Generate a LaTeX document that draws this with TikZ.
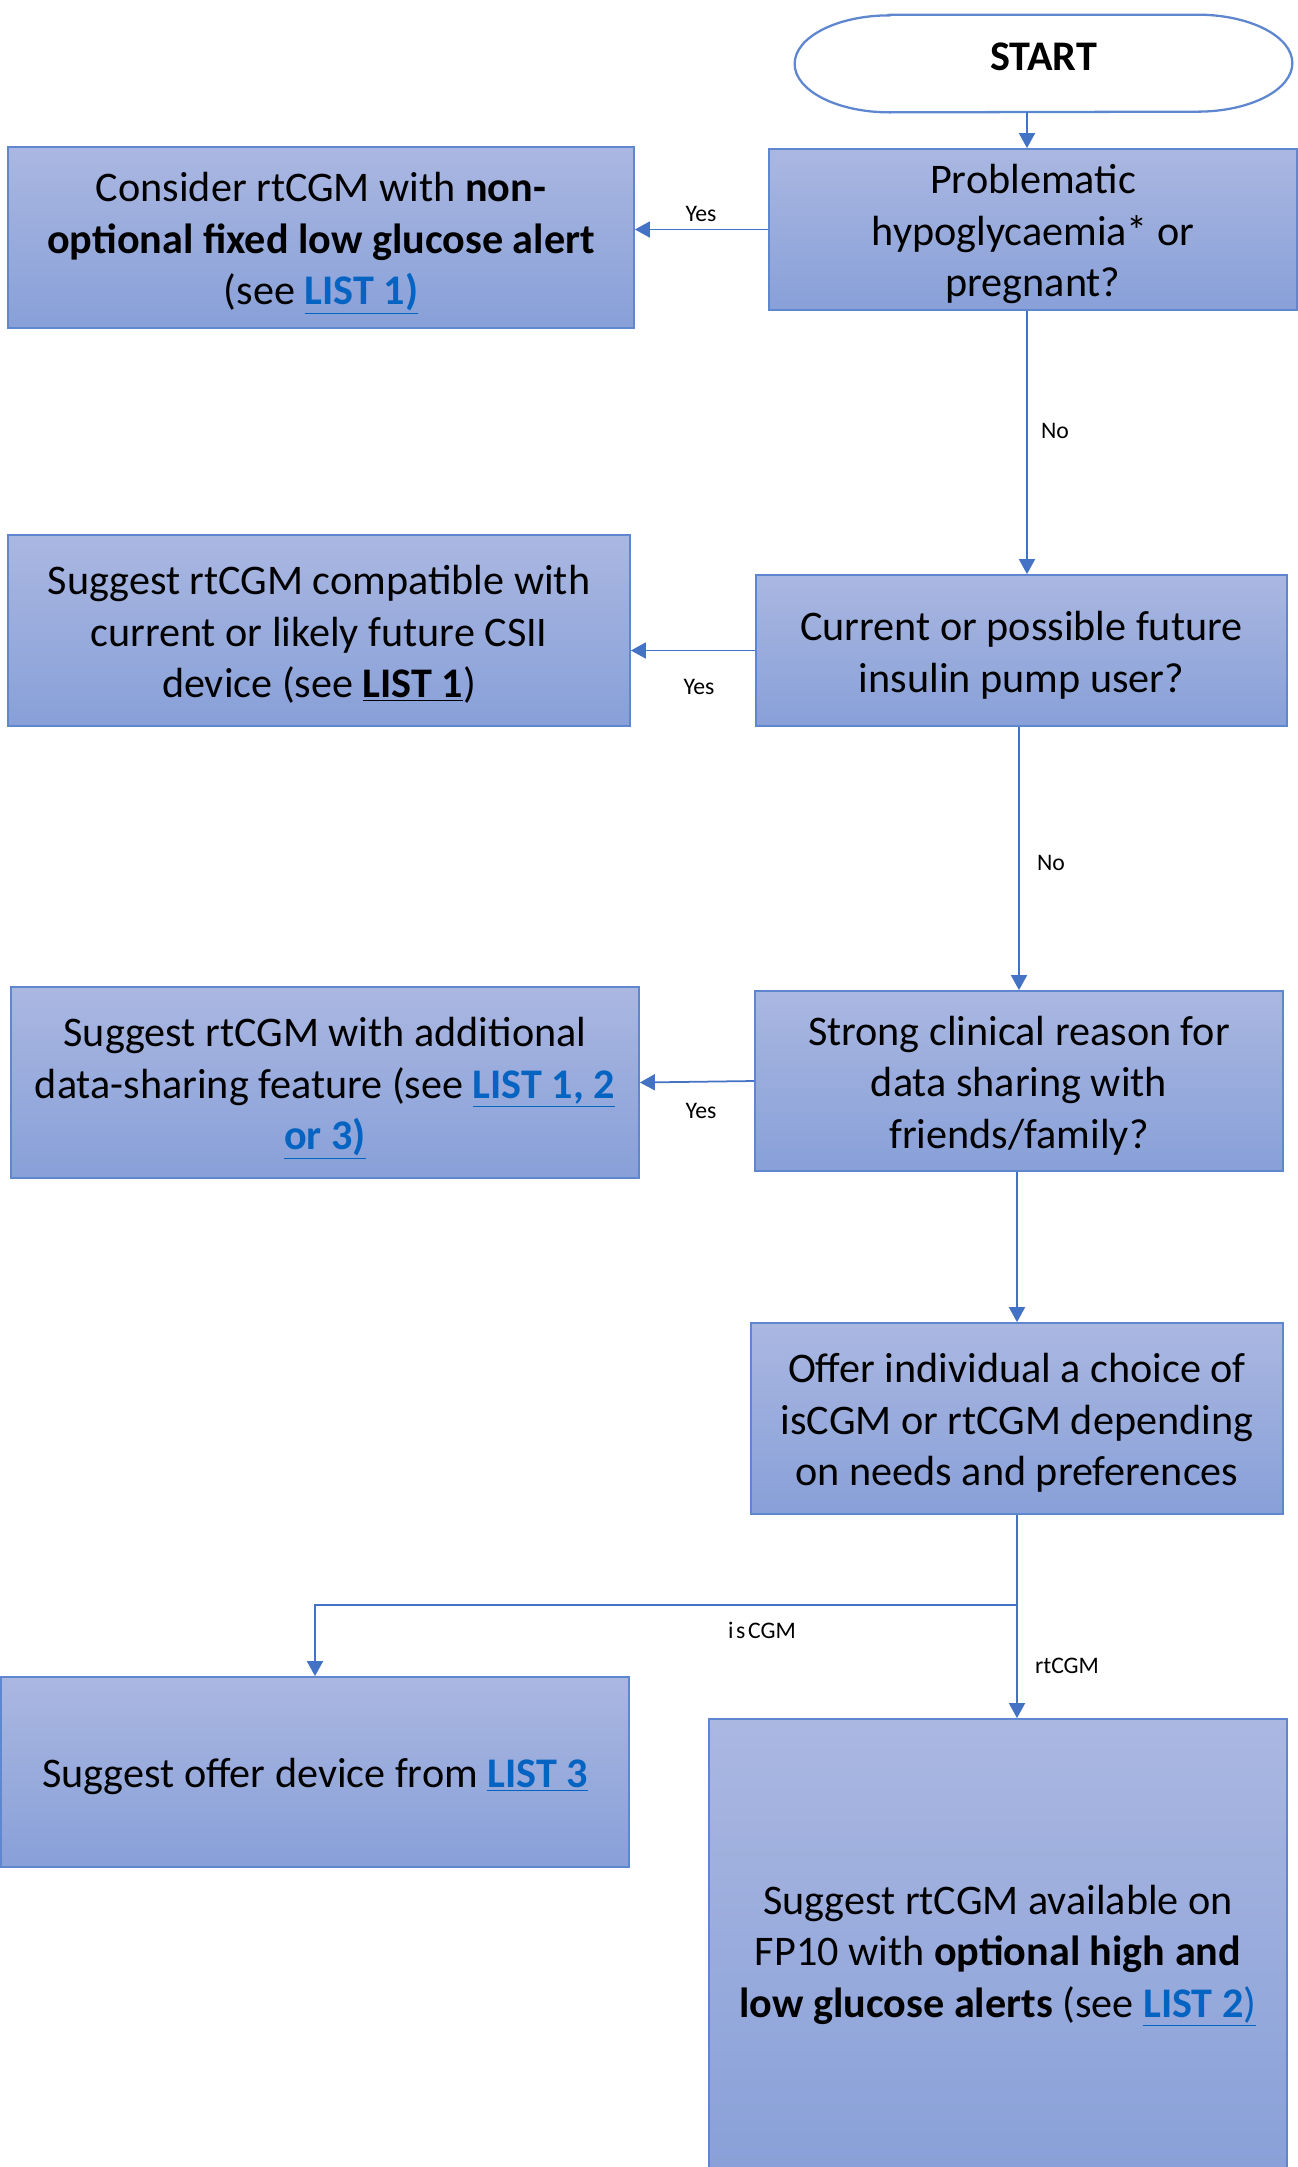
\documentclass[tikz,border=0pt]{standalone}
\usepackage{fontspec}
\setmainfont{Carlito}
\usepackage{xcolor}
\definecolor{fcline}{RGB}{68,114,196}
\definecolor{fcedge}{RGB}{95,135,208}
\definecolor{fctop}{RGB}{170,183,225}
\definecolor{fcbottom}{RGB}{136,160,216}
\definecolor{fclink}{RGB}{5,99,193}
\usetikzlibrary{arrows.meta, positioning}

\newcommand{\boxfont}{\fontsize{24}{29.3}\selectfont}
\newcommand{\lblfont}{\fontsize{13.5}{16}\selectfont}
\newcommand{\listlink}[1]{\textcolor{fclink}{\underline{\textbf{#1}}}}

\begin{document}
\begin{tikzpicture}[x=0.2mm, y=-0.2mm,
  procbox/.style={draw=fcedge, line width=1pt, top color=fctop, bottom color=fcbottom,
                  font=\boxfont, align=center, inner sep=0pt, text depth=6pt},
  oneline/.style={text height=24pt},
  twolines/.style={text height=53.3pt},
  threelines/.style={text height=82.6pt},
  flowarrow/.style={fcline, line width=1pt, -{Triangle[length=3mm, width=3.2mm]}},
  flowlbl/.style={font=\lblfont, inner sep=0pt}]

\clip (0,0) rectangle (1298,2167);

% === Start ===
\node[font=\boxfont\bfseries, minimum width=99.4mm, minimum height=19.4mm,
      text height=15.4pt, text depth=8pt] (start) at (1043.5,63.5) {START};
\draw[fcedge, line width=1.3pt] ([xshift=19mm]start.north west) -- ([xshift=-19mm]start.north east)
  arc[start angle=90, end angle=-90, x radius=19mm, y radius=9.7mm]
  -- ([xshift=19mm]start.south west)
  arc[start angle=270, end angle=90, x radius=19mm, y radius=9.7mm] -- cycle;

% === Questions (right column) ===
\node[procbox, threelines, minimum width=105.6mm, minimum height=32.2mm] (q1) at (1033,229.5)
     {Problematic\\hypoglycaemia* or\\pregnant?};
\node[procbox, twolines, minimum width=106.2mm, minimum height=30.2mm] (q2) at (1021.5,650.5)
     {Current or possible future\\insulin pump user?};
\node[procbox, threelines, minimum width=105.6mm, minimum height=36mm] (q3) at (1019,1081)
     {Strong clinical reason for\\data sharing with\\friends/family?};
\node[procbox, threelines, minimum width=106.4mm, minimum height=38.2mm] (q4) at (1017,1418.5)
     {Offer individual a choice of\\isCGM or rtCGM depending\\on needs and preferences};

% === Outcomes (left column) ===
\node[procbox, threelines, minimum width=125.2mm, minimum height=36.2mm] (a1) at (321,237.5)
     {Consider rtCGM with \textbf{non-}\\\textbf{optional fixed low glucose alert}\\(see \listlink{LIST 1)}};
\node[procbox, threelines, minimum width=124.4mm, minimum height=38.2mm] (a2) at (319,630.5)
     {Suggest rtCGM compatible with\\current or likely future CSII\\device (see \textbf{\underline{LIST 1}})};
\node[procbox, threelines, minimum width=125.6mm, minimum height=38.2mm] (a3) at (325,1082.5)
     {Suggest rtCGM with additional\\data-sharing feature (see \listlink{LIST 1, 2}\\\listlink{or 3)}};
\node[procbox, oneline, minimum width=125.6mm, minimum height=38mm] (a4) at (315,1772)
     {Suggest offer device from \listlink{LIST 3}};
\node[procbox, threelines, minimum width=115.6mm, minimum height=92.4mm] (a5) at (998,1950)
     {Suggest rtCGM available on\\FP10 with \textbf{optional high and}\\\textbf{low glucose alerts} (see \textcolor{fclink}{\underline{\textbf{LIST 2})}}};

% Arrows down the right column
\coordinate (topline) at (1027,0);
\draw[flowarrow] (start.south -| topline) -- (q1.north -| topline);
\draw[flowarrow] (q1.south -| topline) -- (q2.north -| topline);
\draw[flowarrow] (q2.south -| q3.north) -- (q3.north);
\draw[flowarrow] (q3.south -| q4.north) -- (q4.north);

% Yes arrows to the left
\draw[flowarrow] (q1.west) -- (q1.west -| a1.east);
\draw[flowarrow] (q2.west) -- (q2.west -| a2.east);
\draw[flowarrow] (q3.west) -- (a3.east);

% Split after the choice
\coordinate (split) at (1017,1605);
\draw[flowarrow] (q4.south) -- (split) -| (a4.north);
\draw[flowarrow] (split) -- (split |- a5.north);

% Labels
\node[flowlbl] (yes1) at (701,214) {Yes};
\node[flowlbl] (yes2) at (699,687) {Yes};
\node[flowlbl] (yes3) at (701,1111) {Yes};
\node[flowlbl] (no1) at (1055,431) {No};
\node[flowlbl] (no2) at (1051,863) {No};
\node[flowlbl] (iscgm) at (762,1630) {i\kern1.5pt s\kern1.5pt CGM};
\node[flowlbl] (rtcgm) at (1067,1666) {rtCGM};

\end{tikzpicture}
\end{document}
